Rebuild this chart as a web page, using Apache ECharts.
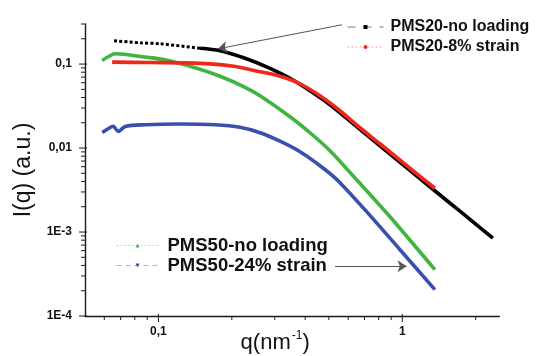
<!DOCTYPE html>
<html>
<head>
<meta charset="utf-8">
<script src="https://cdn.jsdelivr.net/npm/echarts@6/dist/echarts.min.js"></script>
<style>
html,body{margin:0;padding:0;background:#fff;}
#chart{width:539px;height:356px;}
</style>
</head>
<body>
<div id="chart"></div>
<script>
// ---- data ----
const seriesNames = ['PMS20-no loading', 'PMS20-8% strain', 'PMS50-no loading', 'PMS50-24% strain'];

const qBlack = [0.0658, 0.0841, 0.1016, 0.1482, 0.179, 0.2267, 0.2869, 0.3465, 0.4184, 0.5055, 0.652, 0.81, 1.075, 1.336, 1.724, 2.353];
const iBlack = [0.1894, 0.1793, 0.1744, 0.1542, 0.144, 0.1172, 0.0891, 0.0678, 0.0481, 0.0328, 0.01793, 0.01065, 0.00544, 0.00323, 0.00177, 0.000844];

const qRed = [0.0646, 0.0925, 0.1414, 0.1967, 0.2611, 0.3153, 0.3808, 0.46, 0.5555, 0.652, 0.81, 1.075, 1.361];
const iRed = [0.1056, 0.1042, 0.1027, 0.0954, 0.081, 0.0716, 0.0583, 0.0419, 0.0278, 0.01868, 0.01125, 0.00575, 0.00332];

const qGreen = [0.0588, 0.0622, 0.0665, 0.0882, 0.1065, 0.1414, 0.179, 0.2267, 0.2611, 0.3465, 0.4184, 0.5055, 0.628, 0.8905, 1.361];
const iGreen = [0.1104, 0.1222, 0.1326, 0.1211, 0.1125, 0.0903, 0.0716, 0.0529, 0.0419, 0.0236, 0.01521, 0.00929, 0.00468, 0.00152, 0.000356];

const qBlue = [0.0588, 0.0622, 0.0652, 0.0684, 0.0731, 0.0882, 0.1227, 0.1707, 0.2162, 0.2611, 0.3153, 0.3808, 0.46, 0.54, 0.737, 0.979, 1.361];
const iBlue = [0.01534, 0.01698, 0.01818, 0.01576, 0.01808, 0.01894, 0.0193, 0.01894, 0.01768, 0.01521, 0.01205, 0.00903, 0.00616, 0.0042, 0.00158, 0.000615, 0.000206];

// number of leading points of the black curve drawn as a dotted run of markers
const blackDottedCount = 4;

// axis ticks and labels
const xMin = 0.05, xMax = 2.5, yMin = 0.0001, yMax = 0.3;
const xTickValues = [0.1, 1];
const xTickLabels = ['0,1', '1'];
const xMinorTicks = [0.06, 0.07, 0.08, 0.09, 0.2, 0.3, 0.4, 0.5, 0.6, 0.7, 0.8, 0.9, 2];
const yTickValues = [0.1, 0.01, 0.001, 0.0001];
const yTickLabels = ['0,1', '0,01', '1E-3', '1E-4'];
const yMinorTicks = [0.0002, 0.0003, 0.0004, 0.0005, 0.0006, 0.0007, 0.0008, 0.0009,
  0.002, 0.003, 0.004, 0.005, 0.006, 0.007, 0.008, 0.009,
  0.02, 0.03, 0.04, 0.05, 0.06, 0.07, 0.08, 0.09, 0.2, 0.3];

// annotation arrows (data coordinates)
const arrowTop = [[0.566, 0.2937], [0.1757, 0.152]];
const arrowBottom = [[0.53, 0.00039], [1.042, 0.00039]];

// ---- build ----
const colors = ['#000000', '#f0281c', '#3fb43f', '#3a4fae'];
const zip = (a, b) => a.map((v, i) => [v, b[i]]);

function labelFor(values, labels) {
  return function (v) {
    for (let i = 0; i < values.length; i++) {
      if (Math.abs(Math.log10(v) - Math.log10(values[i])) < 1e-6) return labels[i];
    }
    return '';
  };
}

const AX = '#1a1a1a';
function tickSeries(name, values, isX, major) {
  const len = major ? 6 : 4;
  return {
    name: name, type: 'custom', coordinateSystem: 'cartesian2d', silent: true, clip: false,
    z: 5,
    data: values.map(v => isX ? [v, yMin] : [xMin, v]),
    renderItem: function (params, api) {
      const p = api.coord([api.value(0), api.value(1)]);
      const shape = isX
        ? { x1: p[0], y1: p[1] - (major ? 2 : 0), x2: p[0], y2: p[1] + len }
        : { x1: p[0] - len, y1: p[1], x2: p[0] + (major ? 2 : 0), y2: p[1] };
      return { type: 'line', shape: shape, style: { stroke: AX, lineWidth: 1 } };
    }
  };
}

function lineSeries(i, data, symbol, rotate, extra) {
  return Object.assign({
    name: seriesNames[i], type: 'line', data: data,
    smooth: 0.3, showSymbol: false, symbol: symbol, symbolRotate: rotate,
    lineStyle: { color: colors[i], width: 3.6 },
    itemStyle: { color: colors[i] },
    z: 3
  }, extra || {});
}

const arrowStyle = { color: '#555', width: 1, type: 'solid' };
function arrowMark(pair) {
  return {
    silent: true, symbol: ['none', 'arrow'], symbolSize: 9, label: { show: false },
    lineStyle: arrowStyle, itemStyle: { color: '#333' },
    data: [[{ coord: pair[0] }, { coord: pair[1] }]]
  };
}

const blackAll = zip(qBlack, iBlack);

const option = {
  animation: false,
  backgroundColor: '#fff',
  textStyle: { fontFamily: 'Liberation Sans, Arial, sans-serif' },
  grid: { left: 85, top: 24, right: 39.7, bottom: 40, containLabel: false, outerBoundsMode: 'none' },
  xAxis: {
    type: 'log', logBase: 10, min: xMin, max: xMax,
    name: '{a|q(nm}{s|-1}{a|)}', nameLocation: 'middle', nameGap: 14, nameMoveOverlap: false,
    nameTextStyle: {
      padding: [0, 34, 0, 0],
      rich: {
        a: { fontSize: 22, color: '#111', fontFamily: 'Liberation Sans', verticalAlign: 'bottom', lineHeight: 24 },
        s: { fontSize: 12, color: '#111', fontFamily: 'Liberation Sans', verticalAlign: 'top', lineHeight: 24, padding: [0, 0, 10, 1] }
      }
    },
    axisLine: { show: true, onZero: false, lineStyle: { color: AX, width: 1.4 } },
    axisTick: { show: false },
    minorTick: { show: false },
    splitLine: { show: false },
    axisLabel: {
      margin: 10, fontSize: 12, fontWeight: 'bold', color: '#111', fontFamily: 'Liberation Sans',
      formatter: labelFor(xTickValues, xTickLabels), showMinLabel: true, showMaxLabel: true
    }
  },
  yAxis: {
    type: 'log', logBase: 10, min: yMin, max: yMax,
    name: 'I(q) (a.u.)', nameLocation: 'middle', nameRotate: 90, nameGap: 50, nameMoveOverlap: false,
    nameTextStyle: { fontSize: 23, color: '#111', fontFamily: 'Liberation Sans' },
    axisLine: { show: true, onZero: false, lineStyle: { color: AX, width: 1.4 } },
    axisTick: { show: false },
    minorTick: { show: false },
    splitLine: { show: false },
    axisLabel: {
      margin: 13, fontSize: 12, fontWeight: 'bold', color: '#111', fontFamily: 'Liberation Sans',
      formatter: labelFor(yTickValues, yTickLabels)
    }
  },
  legend: [
    {
      orient: 'vertical', left: 347, top: 19, padding: 0, itemGap: 4,
      itemWidth: 36, itemHeight: 5,
      textStyle: { fontSize: 16, fontWeight: 'bold', color: '#111', fontFamily: 'Liberation Sans', padding: [0, 0, 0, 2] },
      data: [
        { name: seriesNames[0], lineStyle: { width: 1, type: [8, 8], color: '#555', opacity: 0.8 } },
        { name: seriesNames[1], lineStyle: { width: 1, type: [2, 2], color: '#f55', opacity: 0.6 } }
      ]
    },
    {
      orient: 'vertical', left: 116, top: 236, padding: 0, itemGap: 1,
      itemWidth: 42, itemHeight: 5,
      textStyle: { fontSize: 18.5, fontWeight: 'bold', color: '#111', fontFamily: 'Liberation Sans', padding: [0, 0, 0, 4] },
      data: [
        { name: seriesNames[2], lineStyle: { width: 1, type: [2, 2], color: '#5c5', opacity: 0.5 } },
        { name: seriesNames[3], lineStyle: { width: 1, type: [5, 4], color: '#56b', opacity: 0.5 } }
      ]
    }
  ],
  series: [
    lineSeries(2, zip(qGreen, iGreen), 'triangle', 0),
    lineSeries(3, zip(qBlue, iBlue), 'triangle', 180, { markLine: arrowMark(arrowBottom) }),
    lineSeries(0, blackAll.slice(blackDottedCount - 1), 'rect', 0, { markLine: arrowMark(arrowTop) }),
    lineSeries(0, blackAll.slice(0, blackDottedCount), 'rect', 0, {
      lineStyle: { color: colors[0], width: 3, type: [3, 2.2] }
    }),
    lineSeries(1, zip(qRed, iRed), 'circle', 0),
    tickSeries('xMajor', xTickValues, true, true),
    tickSeries('xMinor', xMinorTicks, true, false),
    tickSeries('yMajor', yTickValues, false, true),
    tickSeries('yMinor', yMinorTicks, false, false)
  ]
};

const chart = echarts.init(document.getElementById('chart'), null, { renderer: 'canvas' });
chart.setOption(option);
</script>
</body>
</html>
